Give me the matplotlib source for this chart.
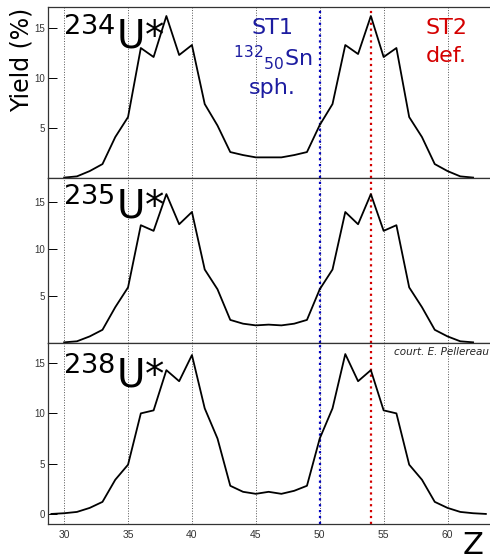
import numpy as np
import matplotlib
matplotlib.use('Agg')
import matplotlib.pyplot as plt

# --- datos ---
z_234 = list(range(30, 63))
y_234 = [0.05, 0.17, 0.7, 1.4, 4.1, 6.1, 13.0, 12.1, 16.2, 12.3, 13.3, 7.4, 5.25,
         2.6, 2.3, 2.07, 2.07, 2.07, 2.3, 2.6, 5.3, 7.4, 13.3, 12.4, 16.2, 12.1,
         13.0, 6.1, 4.1, 1.4, 0.7, 0.17, 0.05]

z_235 = list(range(30, 63))
y_235 = [0.07, 0.18, 0.7, 1.4, 3.8, 5.9, 12.5, 11.9, 15.8, 12.6, 13.9, 7.8, 5.7,
         2.45, 2.05, 1.87, 1.95, 1.87, 2.05, 2.45, 5.7, 7.8, 13.9, 12.6, 15.8, 11.9,
         12.5, 5.9, 3.8, 1.4, 0.7, 0.18, 0.07]

z_238 = list(range(29, 64))
y_238 = [0.0, 0.07, 0.2, 0.6, 1.2, 3.4, 4.9, 10.0, 10.3, 14.3, 13.2, 15.8, 10.5,
         7.5, 2.8, 2.2, 2.0, 2.2, 2.0, 2.3, 2.8, 7.5, 10.5, 15.9, 13.2, 14.3, 10.3,
         10.0, 4.9, 3.4, 1.2, 0.6, 0.2, 0.07, 0.0]

paneles = [('234', z_234, y_234, (0, 17.1)),
           ('235', z_235, y_235, (0, 17.5)),
           ('238', z_238, y_238, (-1, 17.0))]

x_ticks = [30, 35, 40, 45, 50, 55, 60]
y_ticks = [0, 5, 10, 15]
Z_ST1 = 50
Z_ST2 = 54

AZUL = '#1c1ca0'
ROJO = '#d40000'

fig = plt.figure(figsize=(4.9, 5.6), dpi=100)
posiciones = [[0.097, 0.682, 0.905, 0.3055],
              [0.097, 0.3875, 0.905, 0.2945],
              [0.097, 0.0643, 0.905, 0.3232]]

for i, (iso, z, y, ylim) in enumerate(paneles):
    ax = fig.add_axes(posiciones[i])
    ax.set_xlim(28.7, 63.4)
    ax.set_ylim(*ylim)
    ax.set_xticks(x_ticks)
    ax.set_yticks(y_ticks)
    ax.grid(axis='x', linestyle=':', color='#555555', linewidth=0.7)
    ax.axvline(Z_ST1, color='#0000c0', linestyle=':', linewidth=1.6)
    ax.axvline(Z_ST2, color=ROJO, linestyle=':', linewidth=1.6)
    ax.plot(z, y, color='black', linewidth=1.3)

    ax.tick_params(axis='y', direction='in', length=6.5, width=0.7,
                   labelsize=7, labelcolor='#333333', pad=2)
    ax.tick_params(axis='x', length=0, labelsize=7.5, labelcolor='#333333', pad=4)
    for lab in ax.get_yticklabels():
        lab.set_family('Liberation Sans')
    for lab in ax.get_xticklabels():
        lab.set_family('Liberation Sans')
    if i < 2:
        ax.set_xticklabels([])
        ax.set_yticklabels(['', '5', '10', '15'])
    for s in ax.spines.values():
        s.set_linewidth(0.9)
        s.set_color('#333333')

    ax.text(0.035, 0.755, r'$^{%s}$U*' % iso, transform=ax.transAxes,
            fontsize=28, va='baseline', ha='left')

    if i == 0:
        ax.text(46.3, 15.0, 'ST1', color=AZUL, fontsize=16, ha='center', va='center')
        ax.text(46.3, 12.0, r'$^{132}{}_{50}$Sn', color=AZUL, fontsize=16,
                ha='center', va='center')
        ax.text(46.3, 9.0, 'sph.', color=AZUL, fontsize=16, ha='center', va='center')
        ax.text(59.9, 15.0, 'ST2', color=ROJO, fontsize=16, ha='center', va='center')
        ax.text(59.9, 12.2, 'def.', color=ROJO, fontsize=16, ha='center', va='center')
    if i == 2:
        ax.text(0.995, 0.95, 'court. E. Pellereau', transform=ax.transAxes,
                fontsize=7.5, style='italic', ha='right', va='center',
                color='#222222')

fig.text(0.045, 0.893, 'Yield (%)', rotation=90, fontsize=17,
         ha='center', va='center')
fig.text(0.965, 0.025, 'Z', fontsize=22, ha='center', va='center')

fig.savefig('out.png', dpi=100)
